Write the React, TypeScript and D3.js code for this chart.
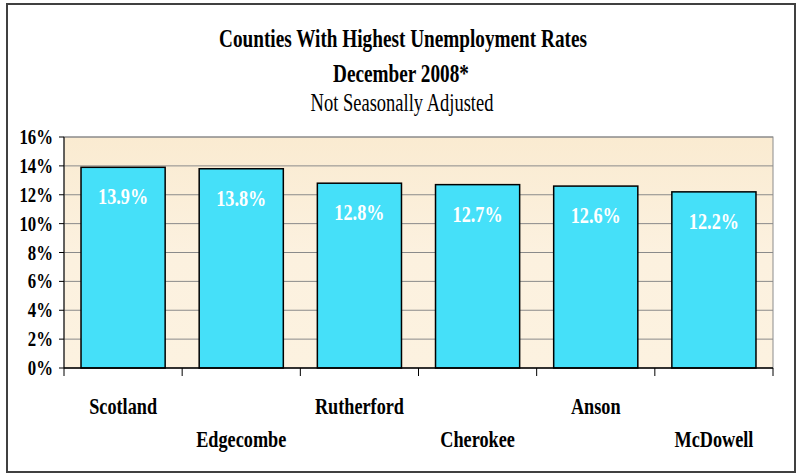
import React from "react";
import * as d3 from "d3";

const counties = ["Scotland", "Edgecombe", "Rutherford", "Cherokee", "Anson", "McDowell"];
const rates = [13.9, 13.8, 12.8, 12.7, 12.6, 12.2];
const yTicks = [0, 2, 4, 6, 8, 10, 12, 14, 16];
const titleLines = ["Counties With Highest Unemployment Rates", "December 2008*"];
const subtitle = "Not Seasonally Adjusted";

const W = 800;
const H = 476;
const FONT = "'Liberation Serif', 'Times New Roman', serif";

const plot = { left: 64, right: 773, top: 137, bottom: 368 };

function CText(props: {
  x: number;
  y: number;
  sx?: number;
  size: number;
  bold?: boolean;
  anchor?: string;
  fill?: string;
  children: React.ReactNode;
}) {
  const { x, y, sx = 0.75, size, bold = true, anchor = "middle", fill = "#000", children } = props;
  return (
    <text
      transform={`translate(${x},${y}) scale(${sx},1)`}
      textAnchor={anchor}
      fontFamily={FONT}
      fontSize={size}
      fontWeight={bold ? "bold" : "normal"}
      fill={fill}
    >
      {children}
    </text>
  );
}

export default function App() {
  const x = d3
    .scaleBand<string>()
    .domain(counties)
    .range([plot.left, plot.right])
    .paddingInner(0.288)
    .paddingOuter(0.144);
  const y = d3.scaleLinear().domain([0, 16]).range([plot.bottom, plot.top]);
  const step = x.step();
  const boundaries = d3.range(counties.length + 1).map((i) => plot.left + i * step);

  return (
    <svg
      width={W}
      height={H}
      style={{ position: "absolute", left: 0, top: 0, background: "#fff" }}
    >
      <defs>
        <linearGradient id="bg" x1="0" y1="0" x2="0" y2="1">
          <stop offset="0" stopColor="#FAEBD1" />
          <stop offset="0.5" stopColor="#FCF1DF" />
          <stop offset="1" stopColor="#FCF2E0" />
        </linearGradient>
      </defs>
      <rect x={7} y={4} width={788} height={468} fill="#fff" stroke="#404040" strokeWidth={2} />

      <CText x={403} y={47} size={26} sx={0.74}>{titleLines[0]}</CText>
      <CText x={401} y={82} size={26} sx={0.74}>{titleLines[1]}</CText>
      <CText x={402} y={111} size={25} sx={0.74} bold={false}>{subtitle}</CText>

      <rect
        x={plot.left}
        y={plot.top}
        width={plot.right - plot.left}
        height={plot.bottom - plot.top}
        fill="url(#bg)"
        stroke="#8c8c8c"
        strokeWidth={1}
      />
      {yTicks.slice(1).map((t) => (
        <line key={t} x1={plot.left} x2={plot.right} y1={y(t)} y2={y(t)} stroke="#8a8a8a" strokeWidth={1} />
      ))}

      {counties.map((c, i) => (
        <rect
          key={c}
          x={x(c)!}
          y={y(rates[i])}
          width={x.bandwidth()}
          height={y(0) - y(rates[i])}
          fill="#45E0F9"
          stroke="#000"
          strokeWidth={1.5}
        />
      ))}

      {counties.map((c, i) => (
        <CText key={c} x={x(c)! + x.bandwidth() / 2} y={y(rates[i]) + 37} size={24} sx={0.76} fill="#fff">
          {rates[i].toFixed(1) + "%"}
        </CText>
      ))}

      <line x1={plot.left} x2={plot.left} y1={plot.top} y2={plot.bottom} stroke="#000" strokeWidth={1} />
      <line x1={plot.left} x2={plot.right} y1={plot.bottom} y2={plot.bottom} stroke="#000" strokeWidth={1.5} />
      {yTicks.map((t) => (
        <g key={t}>
          <line x1={plot.left - 5} x2={plot.left} y1={y(t)} y2={y(t)} stroke="#000" strokeWidth={1} />
          <CText x={53} y={y(t) + 7} size={21} sx={0.8} anchor="end">
            {t + "%"}
          </CText>
        </g>
      ))}
      {boundaries.map((bx, i) => (
        <line key={i} x1={bx} x2={bx} y1={plot.bottom} y2={plot.bottom + 8} stroke="#000" strokeWidth={1} />
      ))}

      {counties.map((c, i) => (
        <CText key={c} x={x(c)! + x.bandwidth() / 2} y={i % 2 === 0 ? 414 : 447} size={24} sx={0.76}>
          {c}
        </CText>
      ))}
    </svg>
  );
}
